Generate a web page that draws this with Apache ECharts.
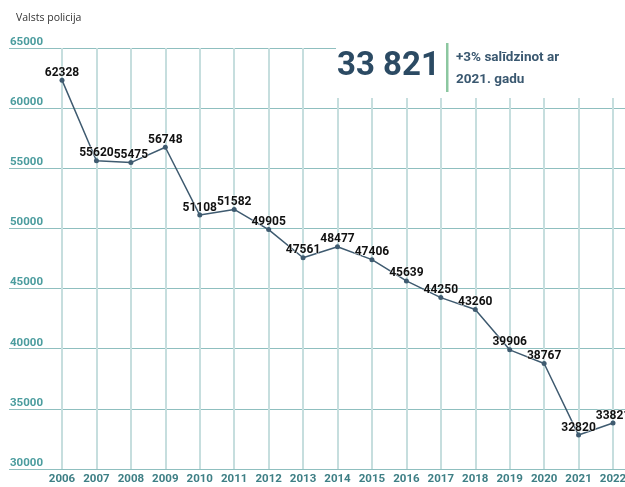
<!DOCTYPE html>
<html>
<head>
<meta charset="utf-8">
<script src="https://cdn.jsdelivr.net/npm/echarts@6/dist/echarts.min.js"></script>
<style>
html,body{margin:0;padding:0;background:#fff;}
#chart{width:625px;height:487px;}
</style>
</head>
<body>
<div id="chart"></div>
<script>
var years = ['2006','2007','2008','2009','2010','2011','2012','2013','2014','2015','2016','2017','2018','2019','2020','2021','2022'];
var values = [62328, 55620, 55475, 56748, 51108, 51582, 49905, 47561, 48477, 47406, 45639, 44250, 43260, 39906, 38767, 32820, 33821];
var yTicks = [30000, 35000, 40000, 45000, 50000, 55000, 60000, 65000];

var chart = echarts.init(document.getElementById('chart'));

var option = {
    backgroundColor: '#fff',
    animation: false,
    title: {
        text: 'Valsts policija',
        left: 11, top: 8,
        textStyle: {fontFamily: 'Open Sans', fontSize: 10.5, fontWeight: 'normal', color: '#333'}
    },
    grid: [
        // main plot, categories from 2006 to 2022
        {left: 62, right: 12, top: 48, bottom: 18, outerBoundsMode: 'none'},
        // wide grid only for the horizontal lines + y labels
        {left: 9, right: 0, top: 48, bottom: 18, outerBoundsMode: 'none'}
    ],
    xAxis: [
        {
            type: 'category', gridIndex: 0, data: years, boundaryGap: false,
            axisLine: {show: false}, axisTick: {show: false},
            axisLabel: {
                margin: 4, color: '#3e7f85', fontFamily: 'Roboto',
                fontSize: 11.5, fontWeight: 'bold', interval: 0
            },
            splitLine: {show: true, lineStyle: {color: '#c6dede', width: 2}}
        },
        {type: 'value', gridIndex: 1, show: false}
    ],
    yAxis: [
        {type: 'value', gridIndex: 0, min: 30000, max: 65000, interval: 5000, show: false},
        {
            type: 'value', gridIndex: 1, min: yTicks[0], max: yTicks[yTicks.length - 1], interval: 5000,
            axisLine: {show: false}, axisTick: {show: false},
            axisLabel: {
                inside: true, margin: 1, align: 'left', verticalAlign: 'bottom',
                color: '#4b9c9e', fontFamily: 'Roboto', fontSize: 11.5, fontWeight: 'bold',
                formatter: function (v) { return String(v); }
            },
            splitLine: {lineStyle: {color: '#8fbfbf', width: 1}}
        }
    ],
    series: [{
        type: 'line',
        xAxisIndex: 0, yAxisIndex: 0,
        data: values,
        symbol: 'circle', symbolSize: 5,
        lineStyle: {color: '#3f5b70', width: 1.5},
        itemStyle: {color: '#3f5b70'},
        label: {
            show: true, position: 'top', distance: -1,
            color: '#111', fontFamily: 'Roboto', fontSize: 12, fontWeight: 'bold',
            textBorderColor: 'rgba(255,255,255,0.7)', textBorderWidth: 1
        },
        z: 5
    }],
    graphic: [
        {type: 'rect', left: 336, top: 40, shape: {width: 289, height: 58}, style: {fill: '#fff'}, z: 10},
        {type: 'text', left: 337, top: 50, style: {text: '33 821', fill: '#2b4a63', font: 'bold 33px Roboto'}, z: 11},
        {type: 'rect', left: 446, top: 43, shape: {width: 2.5, height: 49}, style: {fill: '#8cc7a0'}, z: 11},
        {type: 'text', left: 456, top: 47, style: {text: '+3% salīdzinot ar\n2021. gadu', fill: '#3a5870', font: 'bold 13.5px Roboto', lineHeight: 22}, z: 11}
    ]
};

chart.setOption(option);
</script>
</body>
</html>
